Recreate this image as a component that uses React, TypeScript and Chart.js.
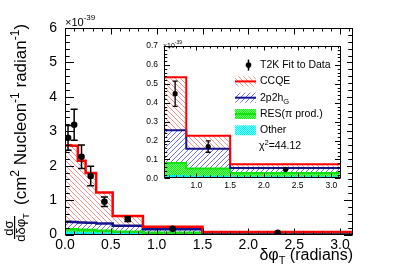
import React, { useEffect, useRef } from 'react';
import { Chart, registerables } from 'chart.js';

Chart.register(...registerables);

// ---------------- data ----------------
const binEdges = [0, 0.067, 0.14, 0.225, 0.34, 0.52, 0.85, 1.5, Math.PI];
const ccqeValues = [2.22, 2.22, 1.79, 1.45, 0.9, 0.28, 0.069, 0.019];
const twoP2hValues = [0.22, 0.21, 0.21, 0.21, 0.21, 0.174, 0.104, 0.027];
const resValues = [0.11, 0.11, 0.105, 0.1, 0.085, 0.069, 0.044, 0.022];
const otherValues = [0.04, 0.04, 0.035, 0.03, 0.025, 0.012, 0.008, 0.006];

const dataX = [0.033, 0.1, 0.18, 0.28, 0.43, 0.685, 1.175, 2.32];
const dataY = [2.81, 3.19, 2.26, 1.7, 0.95, 0.448, 0.168, 0.047];
const dataErr = [0.36, 0.45, 0.34, 0.28, 0.14, 0.067, 0.03, 0.006];

const mainXTicks = [0, 0.5, 1, 1.5, 2, 2.5, 3];
const mainYTicks = [0, 1, 2, 3, 4, 5, 6];
const insetXTicks = [1, 1.5, 2, 2.5, 3];
const insetYTicks = [0, 0.1, 0.2, 0.3, 0.4, 0.5, 0.6, 0.7];

const legendLabels = ['T2K Fit to Data', 'CCQE', '2p2h', 'RES(\u03c0 prod.)', 'Other'];
const chiSquareText = '=44.12';
const scaleExponent = '-39';

// ---------------- styles ----------------
const FONT = '"Liberation Sans", Arial, Helvetica, sans-serif';
const RED = '#ff0000';
const NAVY = '#14148c';
const GREEN = '#11e011';
const CYAN = '#00f0f0';

function histPoints(vals: number[], from = 0) {
  const pts: { x: number; y: number }[] = [];
  for (let i = from; i < vals.length; i++) pts.push({ x: binEdges[i], y: vals[i] });
  pts.push({ x: binEdges[vals.length], y: vals[vals.length - 1] });
  return pts;
}

function stackSum(...arrs: number[][]) {
  return arrs[0].map((_, i) => arrs.reduce((s, a) => s + a[i], 0));
}

function makePattern(size: number, pick: (x: number, y: number) => string | null) {
  const c = document.createElement('canvas');
  c.width = size;
  c.height = size;
  const g = c.getContext('2d')!;
  for (let y = 0; y < size; y++)
    for (let x = 0; x < size; x++) {
      const col = pick(x, y);
      if (col) {
        g.fillStyle = col;
        g.fillRect(x, y, 1, 1);
      }
    }
  return g.createPattern(c, 'repeat')!;
}

function makePatterns() {
  return {
    red: makePattern(5, (x, y) => ((x - y + 50) % 5 === 0 ? '#ff9090' : null)),
    blue: makePattern(5, (x, y) => ((x + y) % 5 === 0 ? '#6f6fff' : null)),
    green: makePattern(2, (x, y) => ((x + y) % 2 === 0 ? '#22e622' : '#66ff66')),
    cyan: makePattern(2, (x, y) => ((x + y) % 2 === 0 ? '#00f4f4' : '#88ffff')),
  };
}

function buildDatasets(from: number, pats: any, lw: number, radius: number) {
  const tops = {
    other: otherValues,
    res: stackSum(otherValues, resValues),
    p2h: stackSum(otherValues, resValues, twoP2hValues),
    ccqe: stackSum(otherValues, resValues, twoP2hValues, ccqeValues),
  };
  const pts = dataX
    .map((x, i) => ({ x, y: dataY[i] }))
    .filter((p) => p.x >= binEdges[from]);
  const line = (vals: number[], color: string, bg: any, fill: any) => ({
    data: histPoints(vals, from),
    borderColor: color,
    backgroundColor: bg,
    fill,
    stepped: 'before',
    borderWidth: lw,
    pointRadius: 0,
    pointHoverRadius: 0,
    borderCapStyle: 'butt',
    borderJoinStyle: 'miter',
  });
  return [
    {
      data: pts,
      showLine: false,
      pointRadius: radius,
      pointHoverRadius: radius,
      pointBackgroundColor: '#000',
      pointBorderColor: '#000',
      pointBorderWidth: 0,
    },
    line(tops.ccqe, RED, pats.red, 2),
    line(tops.p2h, NAVY, pats.blue, 3),
    line(tops.res, GREEN, pats.green, 4),
    line(tops.other, CYAN, pats.cyan, 'origin'),
  ];
}

function tickValues(min: number, max: number, step: number) {
  const out: number[] = [];
  for (let k = Math.ceil(min / step - 1e-6); k * step <= max + 1e-6; k++) out.push(k * step);
  return out;
}

function drawFrame(
  chart: any,
  xMaj: number,
  xMin: number,
  yMaj: number,
  yMin: number,
  xLen: number,
  yLen: number
) {
  const { ctx, chartArea: a, scales } = chart;
  const xs = scales.x;
  const ys = scales.y;
  const L = Math.round(a.left) + 0.5;
  const R = Math.round(a.right) - 0.5;
  const T = Math.round(a.top) + 0.5;
  const B = Math.round(a.bottom) - 0.5;
  ctx.save();
  ctx.strokeStyle = '#000';
  ctx.lineWidth = 1;
  ctx.strokeRect(L, T, R - L, B - T);
  ctx.beginPath();
  for (const v of tickValues(xs.min, xs.max, xMin)) {
    const maj = Math.abs(v / xMaj - Math.round(v / xMaj)) < 1e-6;
    const len = maj ? xLen : xLen / 2;
    const px = Math.round(xs.getPixelForValue(v)) + 0.5;
    ctx.moveTo(px, B);
    ctx.lineTo(px, B - len);
    ctx.moveTo(px, T);
    ctx.lineTo(px, T + len);
  }
  for (const v of tickValues(ys.min, ys.max, yMin)) {
    const maj = Math.abs(v / yMaj - Math.round(v / yMaj)) < 1e-6;
    const len = maj ? yLen : yLen / 2;
    const py = Math.round(ys.getPixelForValue(v)) + 0.5;
    ctx.moveTo(L, py);
    ctx.lineTo(L + len, py);
    ctx.moveTo(R, py);
    ctx.lineTo(R - len, py);
  }
  ctx.stroke();
  ctx.restore();
}

function errorBarPlugin(radiusCap: number, lw: number) {
  return {
    id: 'errorBars',
    afterDatasetsDraw(chart: any) {
      const { ctx, chartArea: a, scales } = chart;
      const xs = scales.x;
      const ys = scales.y;
      ctx.save();
      ctx.beginPath();
      ctx.rect(a.left, a.top, a.right - a.left, a.bottom - a.top);
      ctx.clip();
      ctx.strokeStyle = '#000';
      ctx.lineWidth = lw;
      ctx.beginPath();
      dataX.forEach((x, i) => {
        if (x < xs.min || x > xs.max) return;
        const px = xs.getPixelForValue(x);
        const y1 = ys.getPixelForValue(dataY[i] + dataErr[i]);
        const y2 = ys.getPixelForValue(dataY[i] - dataErr[i]);
        ctx.moveTo(px, y1);
        ctx.lineTo(px, y2);
        if (y2 - y1 > 3) {
          ctx.moveTo(px - radiusCap, y1);
          ctx.lineTo(px + radiusCap, y1);
          ctx.moveTo(px - radiusCap, y2);
          ctx.lineTo(px + radiusCap, y2);
        }
      });
      ctx.stroke();
      ctx.restore();
    },
  };
}

function drawRich(
  ctx: CanvasRenderingContext2D,
  parts: { t: string; size: number; dy: number }[],
  x: number,
  y: number
) {
  let cx = x;
  for (const p of parts) {
    ctx.font = `${p.size}px ${FONT}`;
    ctx.fillText(p.t, cx, y + p.dy);
    cx += ctx.measureText(p.t).width;
  }
  return cx;
}

function richWidth(ctx: CanvasRenderingContext2D, parts: { t: string; size: number; dy: number }[]) {
  let w = 0;
  for (const p of parts) {
    ctx.font = `${p.size}px ${FONT}`;
    w += ctx.measureText(p.t).width;
  }
  return w;
}

const mainDecor = {
  id: 'mainDecor',
  afterDraw(chart: any) {
    const { ctx, chartArea: a } = chart;
    drawFrame(chart, 0.5, 0.1, 1, 0.2, 6, 8.5);
    ctx.save();
    ctx.fillStyle = '#000';
    ctx.textAlign = 'left';
    ctx.textBaseline = 'alphabetic';
    // x10^-39
    drawRich(
      ctx,
      [
        { t: '\u00d710', size: 11, dy: 0 },
        { t: scaleExponent, size: 8, dy: -6 },
      ],
      a.left,
      a.top - 2.5
    );
    // x axis title
    const xt = [
      { t: '\u03b4\u03c6', size: 16, dy: 0 },
      { t: 'T', size: 11, dy: 4 },
      { t: ' (radians)', size: 16, dy: 0 },
    ];
    const w = richWidth(ctx, xt);
    drawRich(ctx, xt, a.right - w, 259.5);
    // y axis title (rotated)
    ctx.save();
    ctx.rotate(-Math.PI / 2);
    // rotated coords: u = -absY, v = absX
    ctx.font = `13px ${FONT}`;
    ctx.textAlign = 'center';
    ctx.fillText('d\u03c3', -228, 12.5);
    ctx.fillRect(-239, 14, 23, 1.2);
    ctx.textAlign = 'left';
    const den = [
      { t: 'd\u03b4\u03c6', size: 13, dy: 0 },
      { t: 'T', size: 9, dy: 4 },
    ];
    const dw = richWidth(ctx, den);
    drawRich(ctx, den, -227.5 - dw / 2, 25);
    drawRich(
      ctx,
      [
        { t: '(cm', size: 17, dy: 0 },
        { t: '2', size: 12, dy: -7 },
        { t: ' Nucleon', size: 17, dy: 0 },
        { t: '-1', size: 12, dy: -7 },
        { t: ' radian', size: 17, dy: 0 },
        { t: '-1', size: 12, dy: -7 },
        { t: ')', size: 17, dy: 0 },
      ],
      -205,
      25.5
    );
    ctx.restore();
    ctx.restore();
  },
};

function legendBox(ctx: CanvasRenderingContext2D, x: number, y: number, fill: any, line: string | null) {
  ctx.fillStyle = fill;
  ctx.fillRect(x, y - 5, 21, 10);
  if (line) {
    ctx.strokeStyle = line;
    ctx.lineWidth = 2;
    ctx.beginPath();
    ctx.moveTo(x, y);
    ctx.lineTo(x + 21, y);
    ctx.stroke();
  }
}

function insetDecor(pats: any) {
  return {
    id: 'insetDecor',
    afterDraw(chart: any) {
      const { ctx, chartArea: a } = chart;
      drawFrame(chart, 0.5, 0.1, 0.1, 0.02, 4, 5.5);
      ctx.save();
      ctx.fillStyle = '#000';
      ctx.textAlign = 'left';
      ctx.textBaseline = 'alphabetic';
      drawRich(
        ctx,
        [
          { t: '\u00d710', size: 7, dy: 0 },
          { t: scaleExponent, size: 5, dy: -4 },
        ],
        a.left - 1,
        a.top + 1.5
      );
      // legend
      const bx = a.left + 71;
      const tx = a.left + 96;
      const y0 = a.top + 19;
      const dy = 16.3;
      ctx.textBaseline = 'middle';
      // data entry
      ctx.fillStyle = '#000';
      ctx.beginPath();
      ctx.arc(bx + 13.5, y0, 2.8, 0, Math.PI * 2);
      ctx.fill();
      ctx.strokeStyle = '#000';
      ctx.lineWidth = 1.5;
      ctx.beginPath();
      ctx.moveTo(bx + 13.5, y0 - 5.5);
      ctx.lineTo(bx + 13.5, y0 + 5.5);
      ctx.stroke();
      legendBox(ctx, bx, y0 + dy, pats.red, RED);
      legendBox(ctx, bx, y0 + 2 * dy, pats.blue, NAVY);
      legendBox(ctx, bx, y0 + 3 * dy, pats.green, GREEN);
      legendBox(ctx, bx, y0 + 4 * dy, pats.cyan, null);
      ctx.fillStyle = '#000';
      const fs = 10.5;
      drawRich(ctx, [{ t: legendLabels[0], size: fs, dy: 0 }], tx, y0);
      drawRich(ctx, [{ t: legendLabels[1], size: fs, dy: 0 }], tx, y0 + dy);
      drawRich(
        ctx,
        [
          { t: legendLabels[2], size: fs, dy: 0 },
          { t: 'G', size: 7.5, dy: 4 },
        ],
        tx,
        y0 + 2 * dy
      );
      drawRich(ctx, [{ t: legendLabels[3], size: fs, dy: 0 }], tx, y0 + 3 * dy);
      drawRich(ctx, [{ t: legendLabels[4], size: fs, dy: 0 }], tx, y0 + 4 * dy);
      drawRich(
        ctx,
        [
          { t: '\u03c7', size: fs, dy: 0 },
          { t: '2', size: 7.5, dy: -4 },
          { t: chiSquareText, size: fs, dy: 0 },
        ],
        tx - 1,
        y0 + 5 * dy
      );
      ctx.restore();
    },
  };
}

const near = (a: number[], v: number) => a.some((t) => Math.abs(t - v) < 1e-6);

export default function App() {
  const mainRef = useRef<HTMLCanvasElement>(null);
  const insetRef = useRef<HTMLCanvasElement>(null);

  useEffect(() => {
    document.body.style.margin = '0';
    const pats = makePatterns();
    const common = {
      responsive: false,
      animation: false as const,
      devicePixelRatio: 1,
      events: [] as any[],
    };
    const main = new Chart(mainRef.current!, {
      type: 'line',
      data: { datasets: buildDatasets(0, pats, 2.5, 3.3) as any },
      options: {
        ...common,
        layout: { padding: { left: 0, top: 28, right: 54, bottom: 0 } },
        plugins: {
          legend: { display: false },
          tooltip: { enabled: false },
          filler: { drawTime: 'beforeDatasetsDraw' },
        } as any,
        scales: {
          x: {
            type: 'linear',
            min: 0,
            max: Math.PI,
            afterBuildTicks: (s: any) => {
              s.ticks = mainXTicks.map((value) => ({ value }));
            },
            afterFit: (s: any) => {
              s.height = 41.5;
            },
            ticks: {
              callback: (v: any) => (near(mainXTicks, Number(v)) ? Number(v).toFixed(1) : ''),
              font: { family: FONT, size: 14 },
              color: '#000',
              padding: 2,
              maxRotation: 0,
              autoSkip: false,
            },
            grid: { display: false, drawTicks: false },
            border: { display: false },
          },
          y: {
            type: 'linear',
            min: 0,
            max: 6,
            afterBuildTicks: (s: any) => {
              s.ticks = mainYTicks.map((value) => ({ value }));
            },
            afterFit: (s: any) => {
              s.width = 65;
            },
            ticks: {
              callback: (v: any) => String(Math.round(Number(v))),
              font: { family: FONT, size: 14 },
              color: '#000',
              padding: 8,
            },
            grid: { display: false, drawTicks: false },
            border: { display: false },
          },
        },
      },
      plugins: [errorBarPlugin(3.5, 1.5), mainDecor],
    } as any);

    const inset = new Chart(insetRef.current!, {
      type: 'line',
      data: { datasets: buildDatasets(5, pats, 2, 2.6) as any },
      options: {
        ...common,
        layout: { padding: { left: 0, top: 8.5, right: 6, bottom: 0 } },
        plugins: {
          legend: { display: false },
          tooltip: { enabled: false },
          filler: { drawTime: 'beforeDatasetsDraw' },
        } as any,
        scales: {
          x: {
            type: 'linear',
            min: binEdges[5],
            max: Math.PI,
            afterBuildTicks: (s: any) => {
              s.ticks = insetXTicks.map((value) => ({ value }));
            },
            afterFit: (s: any) => {
              s.height = 19.7;
            },
            ticks: {
              callback: (v: any) => Number(v).toFixed(1),
              font: { family: FONT, size: 8.5 },
              color: '#000',
              padding: 2.5,
              maxRotation: 0,
              autoSkip: false,
            },
            grid: { display: false, drawTicks: false },
            border: { display: false },
          },
          y: {
            type: 'linear',
            min: 0,
            max: 0.7,
            afterBuildTicks: (s: any) => {
              s.ticks = insetYTicks.map((value) => ({ value }));
            },
            afterFit: (s: any) => {
              s.width = 27;
            },
            ticks: {
              callback: (v: any) => Number(v).toFixed(1),
              font: { family: FONT, size: 8.5 },
              color: '#000',
              padding: 6,
            },
            grid: { display: false, drawTicks: false },
            border: { display: false },
          },
        },
      },
      plugins: [errorBarPlugin(2.5, 1.3), insetDecor(pats)],
    } as any);

    return () => {
      main.destroy();
      inset.destroy();
    };
  }, []);

  return (
    <div style={{ position: 'relative', width: 407, height: 276, background: '#fff', overflow: 'hidden' }}>
      <canvas ref={mainRef} width={407} height={276} style={{ position: 'absolute', left: 0, top: 0 }} />
      <div style={{ position: 'absolute', left: 137, top: 35, width: 210, height: 163, background: '#fff' }}>
        <canvas ref={insetRef} width={210} height={163} style={{ display: 'block' }} />
      </div>
    </div>
  );
}
